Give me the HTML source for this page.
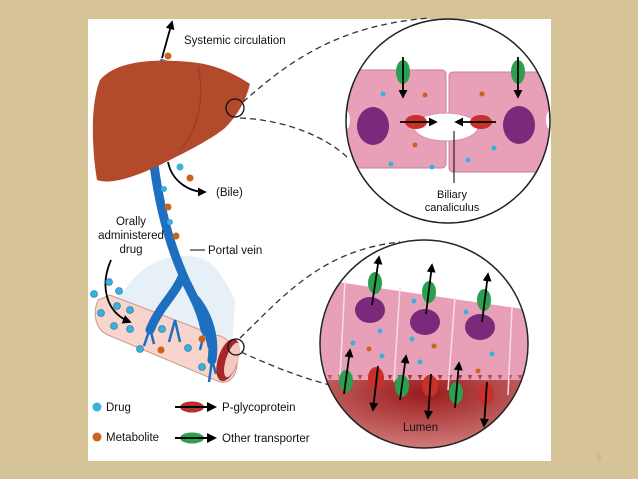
<!DOCTYPE html>
<html><head><meta charset="utf-8"><style>
html,body{margin:0;padding:0;width:638px;height:479px;overflow:hidden;background:#d6c398;}
svg{display:block}
text{font-family:"Liberation Sans",Arial,sans-serif;fill:#111}
</style></head><body>
<svg width="638" height="479" viewBox="0 0 638 479" xmlns="http://www.w3.org/2000/svg">
<defs>
<marker id="ah" viewBox="0 0 10 10" refX="8" refY="5" markerWidth="5" markerHeight="5" orient="auto"><path d="M0,0 L10,5 L0,10 z" fill="#000"/></marker>
<clipPath id="c1"><circle cx="448" cy="121" r="102"/></clipPath>
<clipPath id="c2"><circle cx="424" cy="344" r="104"/></clipPath>
<radialGradient id="lum" cx="0.5" cy="0.2" r="0.8"><stop offset="0" stop-color="#9a1a1a"/><stop offset="1" stop-color="#e29a9a"/></radialGradient>
</defs>
<rect x="0" y="0" width="638" height="479" fill="#d6c398"/>
<rect x="88" y="19" width="463" height="442" fill="#fff"/>
<text x="596" y="460" font-size="9" style="fill:#b8a77e">9</text>

<!-- systemic vessel -->
<path d="M165,60 L158,80 L152,100" stroke="#2a78c0" stroke-width="9" fill="none"/>
<line x1="162" y1="58" x2="172" y2="22" stroke="#000" stroke-width="1.8" marker-end="url(#ah)"/>
<circle cx="168" cy="56" r="3.5" fill="#c8641e"/><circle cx="164" cy="65" r="3.5" fill="#3ab0e0"/>
<text x="184" y="44" font-size="11.5">Systemic circulation</text>

<!-- intestine -->
<path d="M125,290 C140,265 170,250 200,258 C215,262 225,280 235,300 L232,345 L102,310 Z" fill="#dbe9f2" opacity="0.7"/>
<path d="M98,300 C92,315 96,330 108,335 L220,382 C232,385 240,370 236,355 C232,342 224,335 214,335 L110,295 Z" fill="#f7d4cc" stroke="#c89a90"/>
<ellipse cx="228" cy="360" rx="10" ry="22" fill="#a8262a" transform="rotate(18 228 360)"/>
<ellipse cx="232" cy="360" rx="6" ry="18" fill="#f3c8c0" transform="rotate(18 232 360)"/>
<!-- portal vein -->
<path d="M154,165 C160,210 170,245 183,275 C190,292 200,305 205,330 M183,275 C175,295 160,305 150,330 M196,300 C210,318 215,340 212,360" stroke="#1f6fc0" stroke-width="9" fill="none" stroke-linecap="round"/>
<path d="M150,328 l-6,18 M150,328 l4,16 M205,330 l-5,20 M205,330 l4,18 M212,360 l-3,22 M212,360 l4,14 M175,320 l-6,22 M175,320 l5,22" stroke="#1f6fc0" stroke-width="2.5" fill="none"/>
<circle cx="236" cy="347" r="8" fill="none" stroke="#111" stroke-width="1.3"/>

<!-- liver -->
<path d="M100,80 C115,62 150,58 190,62 C215,64 235,74 250,84 C246,100 238,115 225,128 C210,140 190,150 160,165 C135,177 110,185 97,180 C92,150 90,105 100,80 Z" fill="#b34a2c"/>
<path d="M198,66 C205,100 198,130 180,150" stroke="#9a3c22" stroke-width="1.2" fill="none"/>
<circle cx="235" cy="108" r="9" fill="none" stroke="#111" stroke-width="1.3"/>

<!-- bile -->
<path d="M168,162 C172,182 190,192 205,192" stroke="#000" stroke-width="1.8" fill="none" marker-end="url(#ah)"/>
<circle cx="180" cy="167" r="3.5" fill="#3ab0e0"/><circle cx="190" cy="178" r="3.5" fill="#c8641e"/>
<text x="216" y="196" font-size="11.5">(Bile)</text>
<circle cx="164" cy="189" r="3" fill="#3ab0e0"/><circle cx="168" cy="207" r="3.5" fill="#c8641e"/><circle cx="170" cy="222" r="3" fill="#3ab0e0"/><circle cx="176" cy="236" r="3.5" fill="#c8641e"/>

<text x="131" y="225" font-size="11.5" text-anchor="middle">Orally</text>
<text x="131" y="239" font-size="11.5" text-anchor="middle">administered</text>
<text x="131" y="253" font-size="11.5" text-anchor="middle">drug</text>
<path d="M111,260 C100,285 105,312 130,322" stroke="#000" stroke-width="1.8" fill="none" marker-end="url(#ah)"/>
<line x1="190" y1="250" x2="205" y2="250" stroke="#000"/>
<text x="208" y="254" font-size="11.5">Portal vein</text>
<g fill="#3ab0e0" stroke="#1a6a90" stroke-width="0.6">
<circle cx="94" cy="294" r="3.5"/><circle cx="109" cy="282" r="3.5"/><circle cx="119" cy="291" r="3.5"/><circle cx="117" cy="306" r="3.5"/><circle cx="130" cy="310" r="3.5"/><circle cx="101" cy="313" r="3.5"/><circle cx="114" cy="326" r="3.5"/><circle cx="130" cy="329" r="3.5"/><circle cx="140" cy="349" r="3.5"/><circle cx="162" cy="329" r="3.5"/><circle cx="188" cy="348" r="3.5"/><circle cx="202" cy="367" r="3.5"/></g>
<circle cx="161" cy="350" r="3.5" fill="#c8641e"/><circle cx="202" cy="339" r="3.5" fill="#c8641e"/>

<!-- dashed connectors -->
<path d="M243,102 C290,60 340,25 430,18" stroke="#333" stroke-width="1.3" stroke-dasharray="6,4" fill="none"/>
<path d="M240,118 C290,120 330,140 348,158" stroke="#333" stroke-width="1.3" stroke-dasharray="6,4" fill="none"/>
<path d="M240,338 C280,300 320,250 400,242" stroke="#333" stroke-width="1.3" stroke-dasharray="6,4" fill="none"/>
<path d="M241,352 C280,370 310,380 330,385" stroke="#333" stroke-width="1.3" stroke-dasharray="6,4" fill="none"/>

<!-- top circle -->
<circle cx="448" cy="121" r="102" fill="#fff"/>
<g clip-path="url(#c1)">
<rect x="340" y="70" width="106" height="98" rx="4" fill="#e8a0b8" stroke="#c88098"/>
<rect x="449" y="72" width="110" height="100" rx="4" fill="#e8a0b8" stroke="#c88098"/>
<ellipse cx="446" cy="127" rx="32" ry="14" fill="#fff" stroke="#d890a8"/>
<ellipse cx="345" cy="120" rx="5" ry="10" fill="#fff"/><ellipse cx="551" cy="120" rx="5" ry="10" fill="#fff"/>
<ellipse cx="373" cy="126" rx="16" ry="19" fill="#7a2a7a"/><ellipse cx="519" cy="125" rx="16" ry="19" fill="#7a2a7a"/>
<circle cx="383" cy="94" r="2.5" fill="#3ab0e0"/><circle cx="425" cy="95" r="2.5" fill="#c8641e"/><circle cx="415" cy="145" r="2.5" fill="#c8641e"/><circle cx="391" cy="164" r="2.5" fill="#3ab0e0"/><circle cx="432" cy="167" r="2.5" fill="#3ab0e0"/><circle cx="482" cy="94" r="2.5" fill="#c8641e"/><circle cx="494" cy="148" r="2.5" fill="#3ab0e0"/><circle cx="468" cy="160" r="2.5" fill="#3ab0e0"/>
<ellipse cx="403" cy="72" rx="7" ry="12" fill="#2aa050"/><line x1="403" y1="57" x2="403" y2="97" stroke="#000" stroke-width="1.8" marker-end="url(#ah)"/>
<ellipse cx="518" cy="72" rx="7" ry="12" fill="#2aa050"/><line x1="518" y1="57" x2="518" y2="97" stroke="#000" stroke-width="1.8" marker-end="url(#ah)"/>
<ellipse cx="416" cy="122" rx="11" ry="7" fill="#c8302a"/><line x1="400" y1="122" x2="436" y2="122" stroke="#000" stroke-width="1.8" marker-end="url(#ah)"/>
<ellipse cx="481" cy="122" rx="11" ry="7" fill="#c8302a"/><line x1="496" y1="122" x2="456" y2="122" stroke="#000" stroke-width="1.8" marker-end="url(#ah)"/>
<line x1="454" y1="131" x2="454" y2="183" stroke="#000" stroke-width="1"/>
</g>
<circle cx="448" cy="121" r="102" fill="none" stroke="#222" stroke-width="1.5"/>
<text x="452" y="198" font-size="11" text-anchor="middle">Biliary</text>
<text x="452" y="211" font-size="11" text-anchor="middle">canaliculus</text>

<!-- bottom circle -->
<circle cx="424" cy="344" r="104" fill="#fff"/>
<g clip-path="url(#c2)">
<path d="M310,378 L310,278 L530,310 L540,420 L310,420 Z" fill="#e8a0b8"/>
<rect x="300" y="375" width="250" height="90" fill="url(#lum)"/>
<path d="M310,380 l5,-10 5,10 5,-10 5,10 5,-10 5,10 5,-10 5,10 5,-10 5,10 5,-10 5,10 5,-10 5,10 5,-10 5,10 5,-10 5,10 5,-10 5,10 5,-10 5,10 5,-10 5,10 5,-10 5,10 5,-10 5,10 5,-10 5,10 5,-10 5,10 5,-10 5,10 5,-10 5,10 5,-10 5,10 5,-10 5,10 5,-10 5,10 5,-10 5,10 5,-10 5,10 5,-10 5,10 5,-10 5,10" fill="#e8a0b8"/>
<path d="M345,280 L340,378 M400,287 L394,382 M455,297 L448,390 M512,307 L508,395" stroke="#f8dde6" stroke-width="1.5"/>
<ellipse cx="370" cy="310" rx="15" ry="13" fill="#7a2a7a"/><ellipse cx="425" cy="322" rx="15" ry="13" fill="#7a2a7a"/><ellipse cx="480" cy="327" rx="15" ry="13" fill="#7a2a7a"/>
<circle cx="380" cy="331" r="2.5" fill="#3ab0e0"/><circle cx="353" cy="343" r="2.5" fill="#3ab0e0"/><circle cx="382" cy="356" r="2.5" fill="#3ab0e0"/><circle cx="369" cy="349" r="2.5" fill="#c8641e"/><circle cx="414" cy="301" r="2.5" fill="#3ab0e0"/><circle cx="412" cy="339" r="2.5" fill="#3ab0e0"/><circle cx="420" cy="362" r="2.5" fill="#3ab0e0"/><circle cx="434" cy="346" r="2.5" fill="#c8641e"/><circle cx="466" cy="312" r="2.5" fill="#3ab0e0"/><circle cx="492" cy="354" r="2.5" fill="#3ab0e0"/><circle cx="478" cy="371" r="2.5" fill="#c8641e"/>
</g>
<g stroke="#000" stroke-width="1.8" marker-end="url(#ah)">
<ellipse cx="375" cy="283" rx="7" ry="11" fill="#2aa050" stroke="none"/><line x1="372" y1="305" x2="379" y2="257"/>
<ellipse cx="429" cy="292" rx="7" ry="11" fill="#2aa050" stroke="none"/><line x1="426" y1="314" x2="432" y2="265"/>
<ellipse cx="484" cy="300" rx="7" ry="11" fill="#2aa050" stroke="none"/><line x1="482" y1="322" x2="488" y2="274"/>
<ellipse cx="346" cy="381" rx="7" ry="11" fill="#2aa050" stroke="none"/><line x1="344" y1="394" x2="350" y2="350"/>
<ellipse cx="402" cy="386" rx="7" ry="11" fill="#2aa050" stroke="none"/><line x1="400" y1="400" x2="406" y2="356"/>
<ellipse cx="456" cy="393" rx="7" ry="11" fill="#2aa050" stroke="none"/><line x1="455" y1="408" x2="459" y2="363"/>
<ellipse cx="376" cy="378" rx="8" ry="11" fill="#c8302a" stroke="none"/><line x1="378" y1="366" x2="373" y2="410"/>
<ellipse cx="430" cy="386" rx="8" ry="11" fill="#c8302a" stroke="none"/><line x1="431" y1="374" x2="428" y2="418"/>
<ellipse cx="486" cy="394" rx="8" ry="11" fill="#c8302a" stroke="none"/><line x1="487" y1="382" x2="484" y2="426"/>
</g>
<circle cx="424" cy="344" r="104" fill="none" stroke="#222" stroke-width="1.5"/>
<text x="403" y="431" font-size="11.5">Lumen</text>

<!-- legend -->
<circle cx="97" cy="407" r="4.5" fill="#3ab0e0"/><text x="106" y="411" font-size="11.5">Drug</text>
<circle cx="97" cy="437" r="4.5" fill="#c8641e"/><text x="106" y="441" font-size="11.5">Metabolite</text>
<ellipse cx="192" cy="407" rx="12" ry="5.5" fill="#b8302a"/><line x1="175" y1="407" x2="215" y2="407" stroke="#000" stroke-width="2" marker-end="url(#ah)"/>
<text x="222" y="411" font-size="11.5">P-glycoprotein</text>
<ellipse cx="192" cy="438" rx="12" ry="5.5" fill="#2aa050"/><line x1="175" y1="438" x2="215" y2="438" stroke="#000" stroke-width="2" marker-end="url(#ah)"/>
<text x="222" y="442" font-size="11.5">Other transporter</text>
</svg>
</body></html>
